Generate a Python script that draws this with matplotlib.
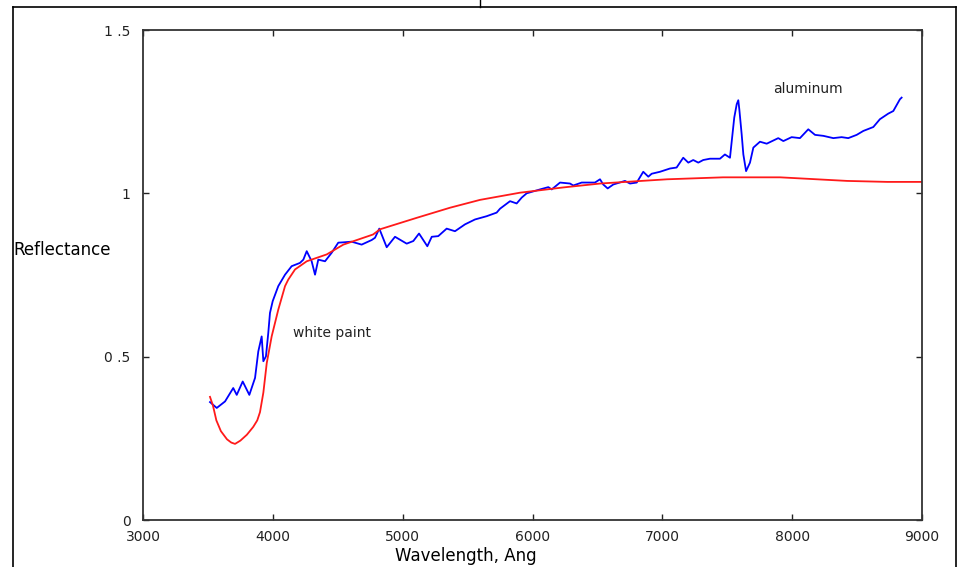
import numpy as np
import matplotlib
matplotlib.use('Agg')
import matplotlib.pyplot as plt
from matplotlib.lines import Line2D

# aluminum spectrum (blue)
al_wave = [3516, 3568, 3632, 3695, 3722, 3768, 3819, 3863, 3888, 3914, 3927, 3947,
           3965, 3978, 3999, 4042, 4094, 4145, 4209, 4235, 4261, 4299, 4325, 4350,
           4402, 4453, 4504, 4543, 4607, 4684, 4761, 4787, 4820, 4877, 4941, 5031,
           5082, 5126, 5190, 5224, 5274, 5339, 5403, 5480, 5557, 5647, 5724, 5750,
           5827, 5878, 5917, 5955, 6058, 6122, 6148, 6212, 6289, 6314, 6379, 6481,
           6520, 6545, 6579, 6622, 6712, 6751, 6803, 6853, 6892, 6918, 6982, 7059,
           7110, 7161, 7200, 7238, 7277, 7315, 7367, 7444, 7482, 7521, 7554, 7573,
           7585, 7593, 7611, 7624, 7645, 7675, 7701, 7752, 7804, 7893, 7932, 7996,
           8060, 8124, 8176, 8240, 8317, 8381, 8432, 8497, 8548, 8625, 8676, 8740,
           8779, 8830, 8843]
al_refl = [0.361, 0.343, 0.363, 0.404, 0.383, 0.424, 0.383, 0.435, 0.516, 0.562, 0.486, 0.501,
           0.573, 0.634, 0.670, 0.716, 0.751, 0.777, 0.787, 0.797, 0.823, 0.792, 0.751, 0.797,
           0.792, 0.818, 0.849, 0.850, 0.852, 0.843, 0.857, 0.864, 0.892, 0.835, 0.867, 0.846,
           0.854, 0.877, 0.838, 0.867, 0.869, 0.892, 0.884, 0.905, 0.920, 0.930, 0.941, 0.953,
           0.976, 0.969, 0.987, 1.000, 1.012, 1.019, 1.012, 1.033, 1.030, 1.024, 1.033, 1.033,
           1.043, 1.027, 1.015, 1.027, 1.038, 1.030, 1.033, 1.066, 1.051, 1.060, 1.066, 1.076,
           1.079, 1.109, 1.094, 1.102, 1.094, 1.102, 1.106, 1.106, 1.119, 1.109, 1.232, 1.273,
           1.285, 1.257, 1.181, 1.119, 1.068, 1.094, 1.140, 1.158, 1.152, 1.169, 1.160, 1.172,
           1.169, 1.196, 1.179, 1.176, 1.169, 1.172, 1.169, 1.179, 1.191, 1.203, 1.227, 1.244,
           1.252, 1.288, 1.293]

# white paint spectrum (red)
wp_wave = [3516, 3539, 3565, 3600, 3647, 3680, 3709, 3750, 3800, 3849, 3880, 3901,
           3927, 3953, 3991, 4042, 4094, 4119, 4171, 4261, 4415, 4543, 4772, 4826,
           5108, 5365, 5596, 5904, 6236, 6521, 7037, 7468, 7907, 8424, 8732, 9000]
wp_refl = [0.377, 0.350, 0.305, 0.272, 0.247, 0.237, 0.233, 0.243, 0.261, 0.285, 0.305, 0.330,
           0.390, 0.480, 0.562, 0.644, 0.716, 0.736, 0.767, 0.792, 0.813, 0.843, 0.874, 0.890,
           0.925, 0.956, 0.980, 1.002, 1.018, 1.030, 1.043, 1.049, 1.049, 1.038, 1.035, 1.035]

x_ticks = [3000, 4000, 5000, 6000, 7000, 8000, 9000]
y_ticks = [0, 0.5, 1, 1.5]
y_tick_labels = ['0', '0 .5', '1', '1 .5']

fig = plt.figure(figsize=(9.61, 5.67), dpi=100)
ax = fig.add_axes([143/961, 47/567, (922-143)/961, (520-30)/567])

ax.plot(al_wave, al_refl, color='#0000ff', lw=1.3)
ax.plot(wp_wave, wp_refl, color='#ff1a1a', lw=1.3)

ax.set_xlim(3000, 9000)
ax.set_ylim(0, 1.5)
ax.set_xticks(x_ticks)
ax.set_xticklabels([str(t) for t in x_ticks])
ax.set_yticks(y_ticks)
ax.set_yticklabels(y_tick_labels)
ax.tick_params(direction='in', length=4.5, width=1, top=True, right=True,
               labelsize=10, colors='#222222')
ax.tick_params(axis='x', pad=7)
ax.tick_params(axis='y', pad=9)
for sp in ax.spines.values():
    sp.set_linewidth(1.3)
    sp.set_color('#333333')

ax.text(7852, 1.319, 'aluminum', fontsize=10, va='center', ha='left', color='#222222')
ax.text(4155, 0.573, 'white paint', fontsize=10, va='center', ha='left', color='#222222')

fig.text(13/961, 1 - 250/567, 'Reflectance', fontsize=12, ha='left', va='center')
fig.text(466/961, 1 - 556/567, 'Wavelength, Ang', fontsize=12, ha='center', va='center')

# outer frame of the figure
fx0, fx1, fy = 12.5/961, 956/961, 1 - 7/567
fig.add_artist(Line2D([fx0, fx0], [0, fy], color='black', lw=1.2))
fig.add_artist(Line2D([fx0, fx1], [fy, fy], color='black', lw=1.2))
fig.add_artist(Line2D([fx1, fx1], [0, fy], color='black', lw=1.2))
fig.add_artist(Line2D([480/961, 480/961], [fy, 1], color='black', lw=1.0))

fig.savefig('out.png', dpi=100)
